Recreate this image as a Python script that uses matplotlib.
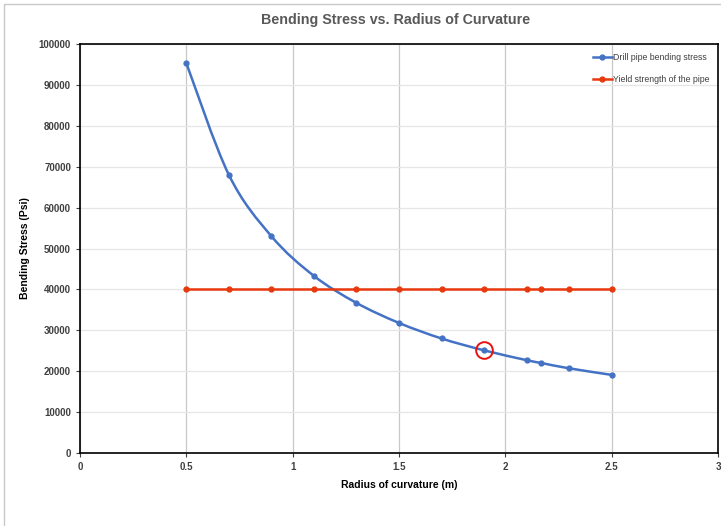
import matplotlib
matplotlib.use("Agg")
import matplotlib.pyplot as plt
from matplotlib.path import Path
from matplotlib.patches import PathPatch, Rectangle
from matplotlib.lines import Line2D
import numpy as np

plt.rcParams['font.family'] = ['Liberation Sans', 'DejaVu Sans']

radius = [0.5, 0.7, 0.9, 1.1, 1.3, 1.5, 1.7, 1.9, 2.1, 2.17, 2.3, 2.5]
bending_stress = [95300, 68000, 53000, 43300, 36700, 31800, 28000, 25100, 22700, 22000, 20700, 19100]
yield_strength = [40000] * len(radius)
highlight_x = [1.9]
highlight_y = [25100]
xticks = [0, 0.5, 1, 1.5, 2, 2.5, 3]
xtick_labels = ['0', '0.5', '1', '1.5', '2', '2.5', '3']
yticks = list(range(0, 100001, 10000))

blue = '#4472C4'
red = '#E8380D'

fig = plt.figure(figsize=(7.21, 5.26), dpi=100)
fig.patches.append(Rectangle((0.006, -0.01), 1.0, 1.002, transform=fig.transFigure,
                             fill=False, edgecolor='#C8C8C8', linewidth=1.0))
ax = fig.add_axes([0.111, 0.1388, 0.8848, 0.7775])

# smooth curve (Catmull-Rom as cubic Bezier) through the data points
x = np.array(radius, dtype=float)
y = np.array(bending_stress, dtype=float)
verts = [(x[0], y[0])]
codes = [Path.MOVETO]
for i in range(len(x) - 1):
    p0 = (x[i - 1], y[i - 1]) if i > 0 else (x[i], y[i])
    p1 = (x[i], y[i])
    p2 = (x[i + 1], y[i + 1])
    p3 = (x[i + 2], y[i + 2]) if i + 2 < len(x) else (x[i + 1], y[i + 1])
    t = 1 / 6.0
    c1 = (p1[0] + (p2[0] - p0[0]) * t, p1[1] + (p2[1] - p0[1]) * t)
    c2 = (p2[0] - (p3[0] - p1[0]) * t, p2[1] - (p3[1] - p1[1]) * t)
    verts += [c1, c2, p2]
    codes += [Path.CURVE4] * 3
ax.add_patch(PathPatch(Path(verts, codes), fill=False, edgecolor=blue, linewidth=1.8, zorder=3))
ax.plot(radius, bending_stress, color=blue, marker='o', markersize=3.5,
        linestyle='none', zorder=4)
ax.plot(radius, yield_strength, color=red, linewidth=1.8, marker='o', markersize=3.5, zorder=3)
ax.plot(highlight_x, highlight_y, marker='o', markersize=12, markerfacecolor='none',
        markeredgecolor='#E81010', markeredgewidth=1.4, linestyle='none', zorder=5)

ax.set_xlim(0, 3)
ax.set_ylim(0, 100000)
ax.set_xticks(xticks)
ax.set_xticklabels(xtick_labels)
ax.set_yticks(yticks)
ax.grid(axis='x', color='#C8C8C8', linewidth=0.9)
ax.grid(axis='y', color='#E6E6E6', linewidth=0.9)
ax.set_axisbelow(True)
for s in ax.spines.values():
    s.set_color('black')
    s.set_linewidth(1.2)
ax.tick_params(axis='both', labelsize=7, colors='#404040', length=3, width=0.8)
for lbl in ax.get_xticklabels() + ax.get_yticklabels():
    lbl.set_fontweight('bold')

ax.set_xlabel('Radius of curvature (m)', fontsize=7.5, fontweight='bold', labelpad=6)
ax.set_ylabel('Bending Stress (Psi)', fontsize=7.5, fontweight='bold', labelpad=6)
fig.text(0.548, 0.962, 'Bending Stress vs. Radius of Curvature', ha='center', va='center',
         fontsize=10.3, fontweight='bold', color='#595959')

handles = [Line2D([], [], color=blue, linewidth=1.8, marker='o', markersize=3.5),
           Line2D([], [], color=red, linewidth=1.8, marker='o', markersize=3.5)]
ax.legend(handles, ['Drill pipe bending stress', 'Yield strength of the pipe'],
          loc='upper right', frameon=False, fontsize=6.3, handlelength=2.2,
          handletextpad=0.1, labelspacing=1.5, borderaxespad=0.6, labelcolor='#404040')

fig.savefig('out.png', dpi=100)
